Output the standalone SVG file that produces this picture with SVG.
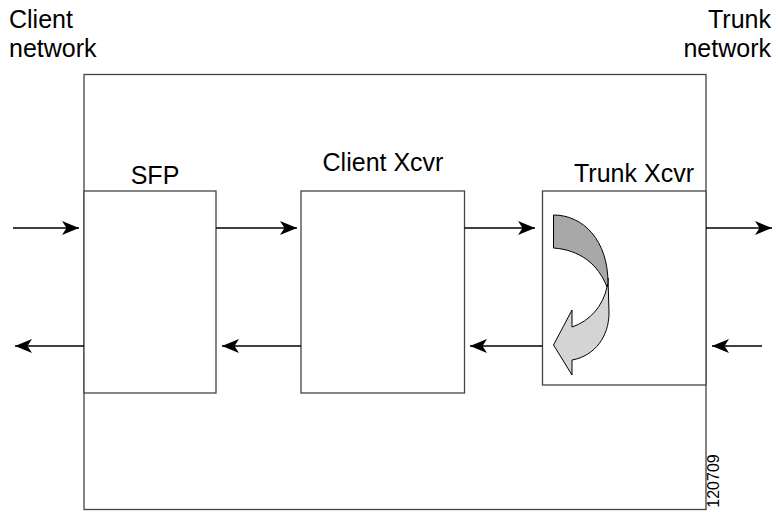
<svg xmlns="http://www.w3.org/2000/svg" width="778" height="512" viewBox="0 0 778 512">
<defs>
<style>
.box{fill:#fff;stroke:#444;stroke-width:1.3}
.lbl{font-family:"Liberation Sans",Arial,sans-serif;font-size:25px;fill:#000}
.con{stroke:#000;stroke-width:1.3;fill:none;marker-end:url(#ah)}
</style>
<marker id="ah" viewBox="0 0 17 14" refX="17" refY="7" markerWidth="17" markerHeight="14" markerUnits="userSpaceOnUse" orient="auto">
<path d="M0,0 L17,7 L0,14 L4.5,7 Z" fill="#000"/>
</marker>
</defs>
<rect width="778" height="512" fill="#fff"/>
<g id="chassis">
<rect class="box" x="84" y="74.5" width="622" height="435"/>
</g>
<g id="sfp">
<rect class="box" x="84" y="191" width="132" height="202"/>
<text class="lbl" x="155" y="184" text-anchor="middle">SFP</text>
</g>
<g id="client-xcvr">
<rect class="box" x="301" y="191" width="163.5" height="202"/>
<text class="lbl" x="383" y="171" text-anchor="middle">Client Xcvr</text>
</g>
<g id="trunk-xcvr">
<rect class="box" x="542.5" y="191" width="163.5" height="194"/>
<text class="lbl" x="634" y="182" text-anchor="middle">Trunk Xcvr</text>
<path d="M608,278 L609,313 C609,336 595,356 572,360 L572,375 L553.5,345 L572,310 L572,327 C590,321 603,306 607,287 Z" fill="#d4d4d4" stroke="#000" stroke-width="1"/>
<path d="M553.5,215 C583,215 608,240 608,283 L607,287 C598,264 580,250 553.5,248 Z" fill="#a8a8a8" stroke="#000" stroke-width="1"/>
</g>
<g id="client-network">
<text class="lbl" x="9" y="28">Client</text>
<text class="lbl" x="9" y="57">network</text>
</g>
<g id="trunk-network">
<text class="lbl" x="771" y="28" text-anchor="end">Trunk</text>
<text class="lbl" x="771" y="57" text-anchor="end">network</text>
</g>
<g id="connectors">
<line class="con" x1="13" y1="228" x2="79" y2="228"/>
<line class="con" x1="216" y1="228" x2="297" y2="228"/>
<line class="con" x1="464.5" y1="228" x2="535" y2="228"/>
<line class="con" x1="706" y1="228" x2="772" y2="228"/>
<line class="con" x1="84" y1="346" x2="15" y2="346"/>
<line class="con" x1="301" y1="346" x2="222" y2="346"/>
<line class="con" x1="542.5" y1="346" x2="470" y2="346"/>
<line class="con" x1="762" y1="346" x2="712" y2="346"/>
</g>
<text x="719" y="481" transform="rotate(-90 719 481)" text-anchor="middle" style="font-family:'Liberation Sans',Arial,sans-serif;font-size:16px">120709</text>
</svg>
